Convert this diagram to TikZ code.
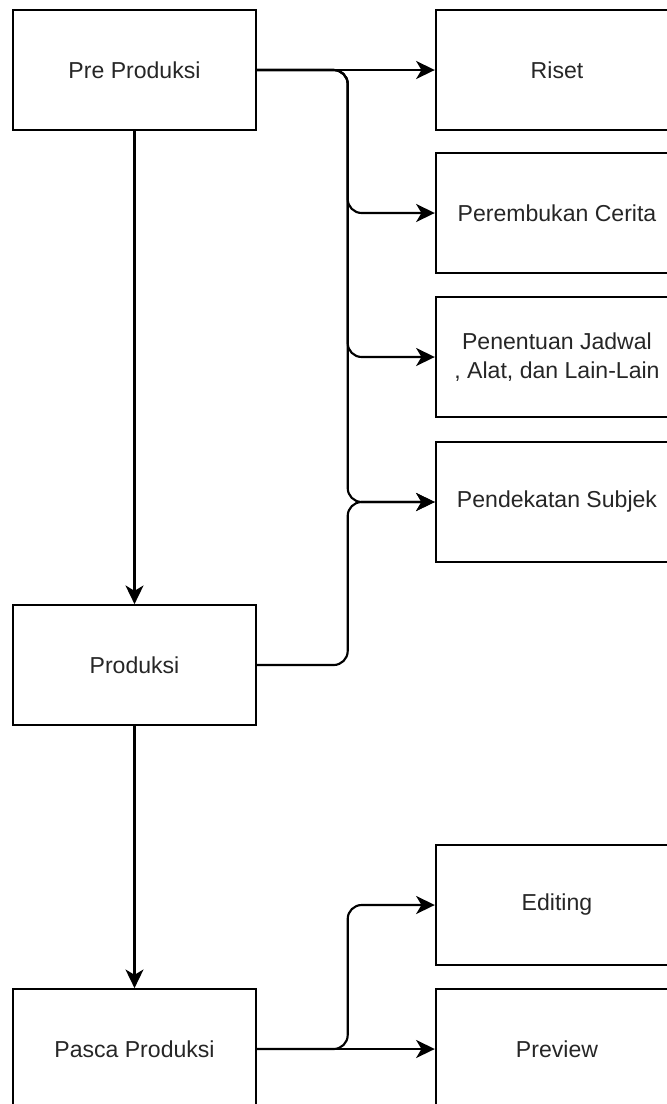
\documentclass[tikz,border=0pt]{standalone}
\usepackage{fontspec}
\setmainfont{Liberation Sans}
\usetikzlibrary{arrows.meta}
\begin{document}
\begin{tikzpicture}[x=0.75pt,y=-0.75pt,
  box/.style={draw=black, line width=1.3pt, minimum width=182pt, minimum height=90pt,
    inner sep=0pt, align=center, text=black!85,
    font=\fontsize{17.3pt}{21.5pt}\selectfont},
  edge/.style={draw=black, line width=1.6pt, rounded corners=10.5pt,
    -{Stealth[length=14pt, width=13.5pt, inset=4pt]}}
]
\useasboundingbox (0,0) rectangle (667,1104);
\clip (0,0) rectangle (667,1104);
\node[box] (pre)   at (134.5,70)  {Pre Produksi};
\node[box] (prod)  at (134.5,665) {Produksi};
\node[box] (pasca) at (134.5,1049) {Pasca Produksi};
\node[box] (riset) at (557,70)  {Riset};
\node[box] (perem) at (557,213) {Perembukan Cerita};
\node[box] (jadwal) at (557,357) {Penentuan Jadwal\\, Alat, dan Lain-Lain};
\node[box] (subjek) at (557,502) {Pendekatan Subjek};
\node[box] (edit)  at (557,905) {Editing};
\node[box] (prev)  at (557,1049) {Preview};

\draw[edge] (pre.east) -- (riset.west);
\draw[edge] (pre.east) -- ++(91,0) |- (perem.west);
\draw[edge] (pre.east) -- ++(91,0) |- (jadwal.west);
\draw[edge] (pre.east) -- ++(91,0) |- (subjek.west);
\draw[edge] (prod.east) -- ++(91,0) |- (subjek.west);
\draw[edge] (pre.south) -- (prod.north);
\draw[edge] (prod.south) -- (pasca.north);
\draw[edge] (pasca.east) -- (prev.west);
\draw[edge] (pasca.east) -- ++(91,0) |- (edit.west);
\end{tikzpicture}
\end{document}
